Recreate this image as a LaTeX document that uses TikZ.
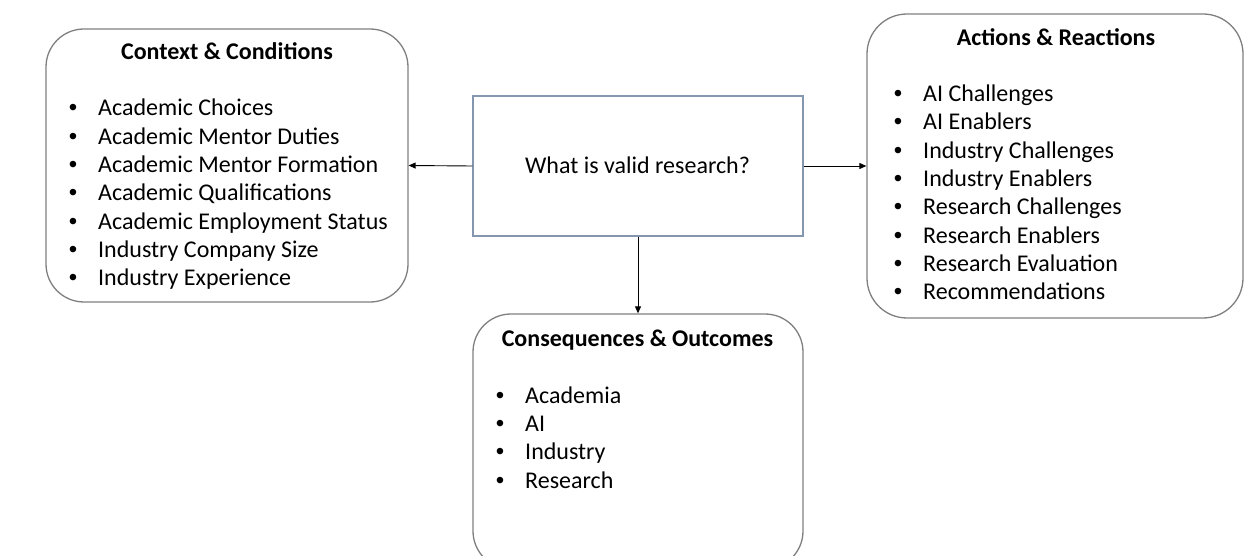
\documentclass[tikz,border=0pt]{standalone}
\usepackage{fontspec}
\setmainfont{Carlito}
\newfontfamily\bulfont{Liberation Sans}
\usetikzlibrary{arrows.meta}
\definecolor{boxgray}{HTML}{7F7F7F}
\definecolor{qblue}{HTML}{8496B0}
\newcommand{\bulitem}[1]{\llap{{\bulfont •}\hspace{21pt}}#1}
\begin{document}
\begin{tikzpicture}[x=1pt,y=1pt,
  every node/.style={font=\fontsize{24}{28.3}\selectfont},
  rbox/.style={draw=boxgray, line width=1.3pt, rounded corners=38pt, inner sep=0pt},
  qbox/.style={draw=qblue, line width=1.2pt, inner sep=0pt},
  ttl/.style={anchor=base, font=\fontsize{24}{28.3}\selectfont\bfseries},
  itm/.style={anchor=base west, inner sep=0pt},
  arr/.style={line width=0.9pt, -{Triangle[length=7pt,width=6pt]}}]
\useasboundingbox (0,0) rectangle (1245,-556);
% boxes
\node[rbox, minimum width=362pt, minimum height=273pt] (cc) at (227,-165.5) {};
\node[rbox, rounded corners=40pt, minimum width=376pt, minimum height=304pt] (ar) at (1055,-166) {};
\node[qbox, minimum width=330pt, minimum height=140pt] (q) at (638,-166) {};
\node[rbox, minimum width=330pt, minimum height=255pt] (co) at (638,-441.5) {};
% texts
\node[anchor=base] (qt) at (637.5,-173.3) {What is valid research?};
\node[ttl] (cct) at (227,-60) {Context \& Conditions};
\node[ttl] (art) at (1056,-45.7) {Actions \& Reactions};
\node[ttl] (cot) at (637.5,-346.7) {Consequences \& Outcomes};
\foreach \t [count=\i] in {Academic Choices, Academic Mentor Duties, Academic Mentor Formation, Academic Qualifications, Academic Employment Status, Industry Company Size, Industry Experience}
  \node[itm] (cc\i) at (98,{-116-28.3*(\i-1)}) {\bulitem{\t}};
\foreach \t [count=\i] in {AI Challenges, AI Enablers, Industry Challenges, Industry Enablers, Research Challenges, Research Enablers, Research Evaluation, Recommendations}
  \node[itm] (ar\i) at (923,{-101.7-28.3*(\i-1)}) {\bulitem{\t}};
\foreach \t [count=\i] in {Academia, AI, Industry, Research}
  \node[itm] (co\i) at (525,{-403.3-28.3*(\i-1)}) {\bulitem{\t}};
% connectors
\draw[arr] (q.west) -- (cc.east);
\draw[arr] (q.east) -- (ar.west);
\draw[arr] (q.south) -- (co.north);
\end{tikzpicture}
\end{document}
